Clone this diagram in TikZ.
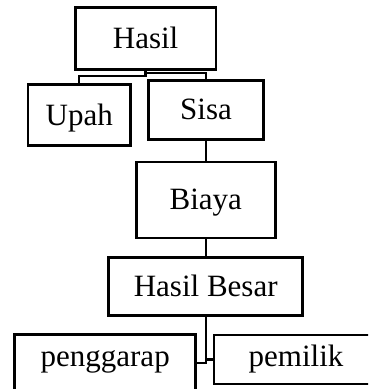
\documentclass[tikz,border=0pt]{standalone}
\usepackage{fontspec}
\setmainfont{Liberation Serif}
\begin{document}
\begin{tikzpicture}[x=1pt,y=-1pt,
  box/.style={draw, line width=2.6pt, inner sep=0pt,
    font=\fontsize{31}{37}\selectfont, text height=22pt, text depth=2.4pt},
  link/.style={line width=2.3pt}]
\useasboundingbox (0,0) rectangle (368,389);
\clip (0,0) rectangle (368,389);

% boxes
\node[box, minimum width=140.7pt, minimum height=62.2pt] (hasil) at (145.6,38.4) {Hasil};
\node[box, minimum width=102.7pt, minimum height=61pt] (upah) at (79.3,115.2) {Upah};
\node[box, minimum width=114.6pt, minimum height=58.8pt] (sisa) at (206,110.1) {Sisa};
\node[box, minimum width=139pt, minimum height=76pt] (biaya) at (205.8,200) {Biaya};
\node[box, minimum width=194.1pt, minimum height=58pt] (besar) at (205.7,286.3) {Hasil Besar};
\node[box, minimum width=181pt, minimum height=61.3pt, text depth=19.4pt] (penggarap) at (105.2,365.4) {penggarap};
\node[box, minimum width=164pt, minimum height=49pt, text depth=7.6pt] (pemilik) at (296,359.5) {pemilik};

% connectors
\draw[link] (hasil.south) -- (hasil.south |- 0,76.2) -| (upah.north);
\draw[link] (hasil.south) -- (hasil.south |- 0,72.8) -| (sisa.north);
\draw[link] (sisa.south) -- (sisa.south |- biaya.north);
\draw[link] (biaya.south) -- (biaya.south |- besar.north);
\draw[link] (besar.south) -- (besar.south |- 0,362.8) -- (penggarap.east |- 0,362.8);
\draw[link] (besar.south) |- (pemilik.west);
\end{tikzpicture}
\end{document}
